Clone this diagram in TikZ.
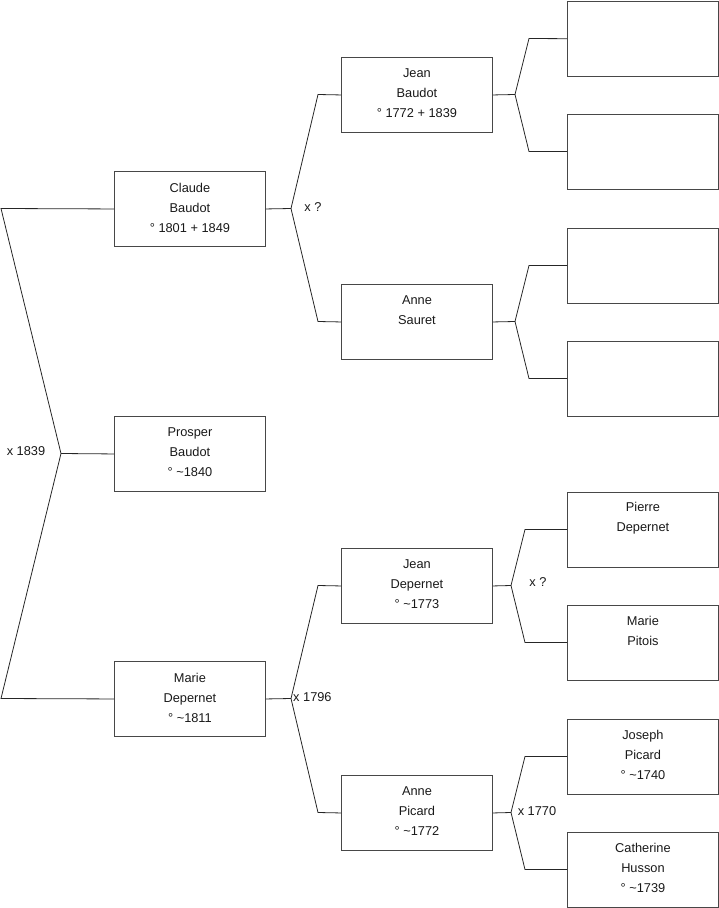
\documentclass[tikz,border=0pt]{standalone}
\usepackage{fontspec}
\setmainfont{Liberation Sans}
\newcommand{\tl}{\textasciitilde}
\begin{document}
\begin{tikzpicture}[x=1pt,y=-1pt,
  box/.style={draw=black!72, line width=0.9pt, minimum width=151pt, minimum height=75pt, inner sep=0pt, anchor=north west},
  txt/.style={align=center, font=\fontsize{12.8}{20}\selectfont, inner sep=0pt, text=black!90},
  conn/.style={draw=black!85, line width=0.8pt},
  lbl/.style={font=\fontsize{12.8}{15}\selectfont, inner sep=0pt, text=black!90}]
\useasboundingbox (0,0) rectangle (719,908);

% generation 1
\node[box] (claude)  at (114,171) {};
\node[box] (prosper) at (114,416) {};
\node[box] (marie)   at (114,661) {};
\node[txt] (claudeT)  at ([yshift=-36.5pt]claude.north)  {Claude\\Baudot\\° 1801 + 1849};
\node[txt] (prosperT) at ([yshift=-36.5pt]prosper.north) {Prosper\\Baudot\\° \tl1840};
\node[txt] (marieT)   at ([yshift=-36.5pt]marie.north)   {Marie\\Depernet\\° \tl1811};

% generation 2
\node[box] (jeanb)  at (341,57)  {};
\node[box] (annes)  at (341,284) {};
\node[box] (jeand)  at (341,548) {};
\node[box] (annep)  at (341,775) {};
\node[txt] (jeanbT) at ([yshift=-36.5pt]jeanb.north) {Jean\\Baudot\\° 1772 + 1839};
\node[txt] (annesT) at ([yshift=-26.5pt]annes.north) {Anne\\Sauret};
\node[txt] (jeandT) at ([yshift=-36.5pt]jeand.north) {Jean\\Depernet\\° \tl1773};
\node[txt] (annepT) at ([yshift=-36.5pt]annep.north) {Anne\\Picard\\° \tl1772};

% generation 3
\node[box, minimum height=75.5pt] (r1) at (567,0.5) {};
\node[box] (r2) at (567,113.5) {};
\node[box] (r3) at (567,227.5) {};
\node[box] (r4) at (567,340.5) {};
\node[box] (pierre) at (567,491.5) {};
\node[box] (pitois) at (567,604.5) {};
\node[box] (joseph) at (567,718.5) {};
\node[box] (cath)   at (567,831.5) {};
\node[txt] (pierreT) at ([yshift=-26.5pt]pierre.north) {Pierre\\Depernet};
\node[txt] (pitoisT) at ([yshift=-26.5pt]pitois.north) {Marie\\Pitois};
\node[txt] (josephT) at ([yshift=-36.5pt]joseph.north) {Joseph\\Picard\\° \tl1740};
\node[txt] (cathT)   at ([yshift=-36.5pt]cath.north)   {Catherine\\Husson\\° \tl1739};

% left connector
\coordinate (a1) at (1,208.5);
\coordinate (a2) at (61,453.5);
\coordinate (a3) at (1,698.5);
\draw[conn] (claude.west) -- (a1) -- (a2) -- (a3) -- (marie.west);
\draw[conn] (a2) -- (prosper.west);
\node[lbl] (m1839) at (26,451.5) {x 1839};

% Claude's parents
\coordinate (b0) at (291,208.5);
\coordinate (b1) at (318,94.5);
\coordinate (b2) at (318,321.5);
\draw[conn] (claude.east) -- (b0);
\draw[conn] (jeanb.west) -- (b1) -- (b0) -- (b2) -- (annes.west);
\node[lbl] (mq1) at (313,207.5) {x ?};

% Marie's parents
\coordinate (c0) at (291,698.5);
\coordinate (c1) at (318,585.5);
\coordinate (c2) at (318,812.5);
\draw[conn] (marie.east) -- (c0);
\draw[conn] (jeand.west) -- (c1) -- (c0) -- (c2) -- (annep.west);
\node[lbl, anchor=west] (m1796) at (293,697.5) {x 1796};

% Jean Baudot's parents
\coordinate (d0) at (515,94.5);
\coordinate (d1) at (529,38.5);
\coordinate (d2) at (529,151.5);
\draw[conn] (jeanb.east) -- (d0);
\draw[conn] (r1.west) -- (d1) -- (d0) -- (d2) -- (r2.west);

% Anne Sauret's parents
\coordinate (e0) at (515,321.5);
\coordinate (e1) at (529,265.5);
\coordinate (e2) at (529,378.5);
\draw[conn] (annes.east) -- (e0);
\draw[conn] (r3.west) -- (e1) -- (e0) -- (e2) -- (r4.west);

% Jean Depernet's parents
\coordinate (f0) at (511,585.5);
\coordinate (f1) at (525,529.5);
\coordinate (f2) at (525,642.5);
\draw[conn] (jeand.east) -- (f0);
\draw[conn] (pierre.west) -- (f1) -- (f0) -- (f2) -- (pitois.west);
\node[lbl] (mq2) at (538,582.5) {x ?};

% Anne Picard's parents
\coordinate (g0) at (511,812.5);
\coordinate (g1) at (525,756.5);
\coordinate (g2) at (525,869.5);
\draw[conn] (annep.east) -- (g0);
\draw[conn] (joseph.west) -- (g1) -- (g0) -- (g2) -- (cath.west);
\node[lbl] (m1770) at (537,811.5) {x 1770};
\end{tikzpicture}
\end{document}
